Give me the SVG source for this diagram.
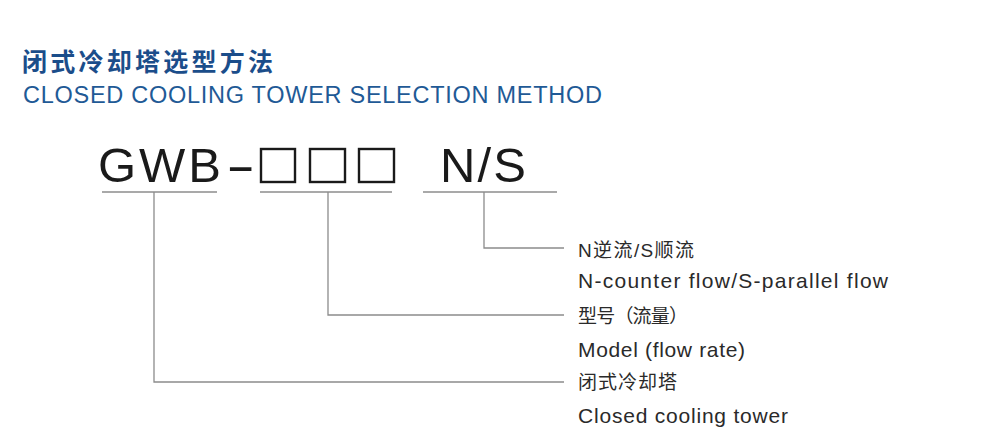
<svg xmlns="http://www.w3.org/2000/svg" width="1000" height="439" viewBox="0 0 1000 439">
  <style>
    .title { font-family: "Noto Sans CJK SC", "Liberation Sans", sans-serif; font-weight: 700; fill: #1b4d8a; }
    .sub { font-family: "Liberation Sans", "Noto Sans", sans-serif; fill: #1f5a96; }
    .big { font-family: "Liberation Sans", "Noto Sans", sans-serif; fill: #1a1a1a; font-size: 49px; }
    .lbl { font-family: "Liberation Sans", "Noto Sans CJK SC", sans-serif; fill: #2a2a2a; font-size: 21px; }
    .cjk { font-family: "Liberation Sans", "Noto Sans CJK SC", sans-serif; fill: #2a2a2a; font-size: 19px; }
    .rule { stroke: #8c8c8c; stroke-width: 1.3; fill: none; }
    .box { stroke: #1a1a1a; stroke-width: 2.4; fill: none; }
  </style>
  <rect width="1000" height="439" fill="#ffffff"/>

  <g id="heading">
    <text class="title" x="22" y="71" font-size="25" textLength="251" lengthAdjust="spacing">闭式冷却塔选型方法</text>
    <text class="sub" x="23" y="103" font-size="23.5" textLength="579" lengthAdjust="spacing">CLOSED COOLING TOWER SELECTION METHOD</text>
  </g>

  <g id="code">
    <text class="big" x="98" y="182" textLength="123" lengthAdjust="spacing">GWB</text>
    <text class="big" x="226" y="182" transform="translate(226 0) scale(1.8 1) translate(-226 0)">-</text>
    <rect class="box" x="261" y="149" width="34" height="33"/>
    <rect class="box" x="310" y="149" width="35" height="33"/>
    <rect class="box" x="359" y="149" width="35" height="33"/>
    <text class="big" x="440" y="182" textLength="86" lengthAdjust="spacing">N/S</text>
  </g>

  <g id="connectors">
    <line class="rule" x1="102" y1="192" x2="217" y2="192"/>
    <line class="rule" x1="260" y1="192" x2="392" y2="192"/>
    <line class="rule" x1="423" y1="192" x2="557" y2="192"/>
    <polyline class="rule" points="484,192 484,248 564,248"/>
    <polyline class="rule" points="328,192 328,315 564,315"/>
    <polyline class="rule" points="154,192 154,382 564,382"/>
  </g>

  <g id="label-flow">
    <text class="cjk" x="578" y="257" textLength="116" lengthAdjust="spacing">N逆流/S顺流</text>
    <text class="lbl" x="578" y="288" textLength="310" lengthAdjust="spacing">N-counter flow/S-parallel flow</text>
  </g>
  <g id="label-model">
    <text class="cjk" x="578" y="323" textLength="110" lengthAdjust="spacing">型号（流量）</text>
    <text class="lbl" x="578" y="357" textLength="167" lengthAdjust="spacing">Model (flow rate)</text>
  </g>
  <g id="label-tower">
    <text class="cjk" x="578" y="389" textLength="99" lengthAdjust="spacing">闭式冷却塔</text>
    <text class="lbl" x="578" y="423" textLength="210" lengthAdjust="spacing">Closed cooling tower</text>
  </g>
</svg>
